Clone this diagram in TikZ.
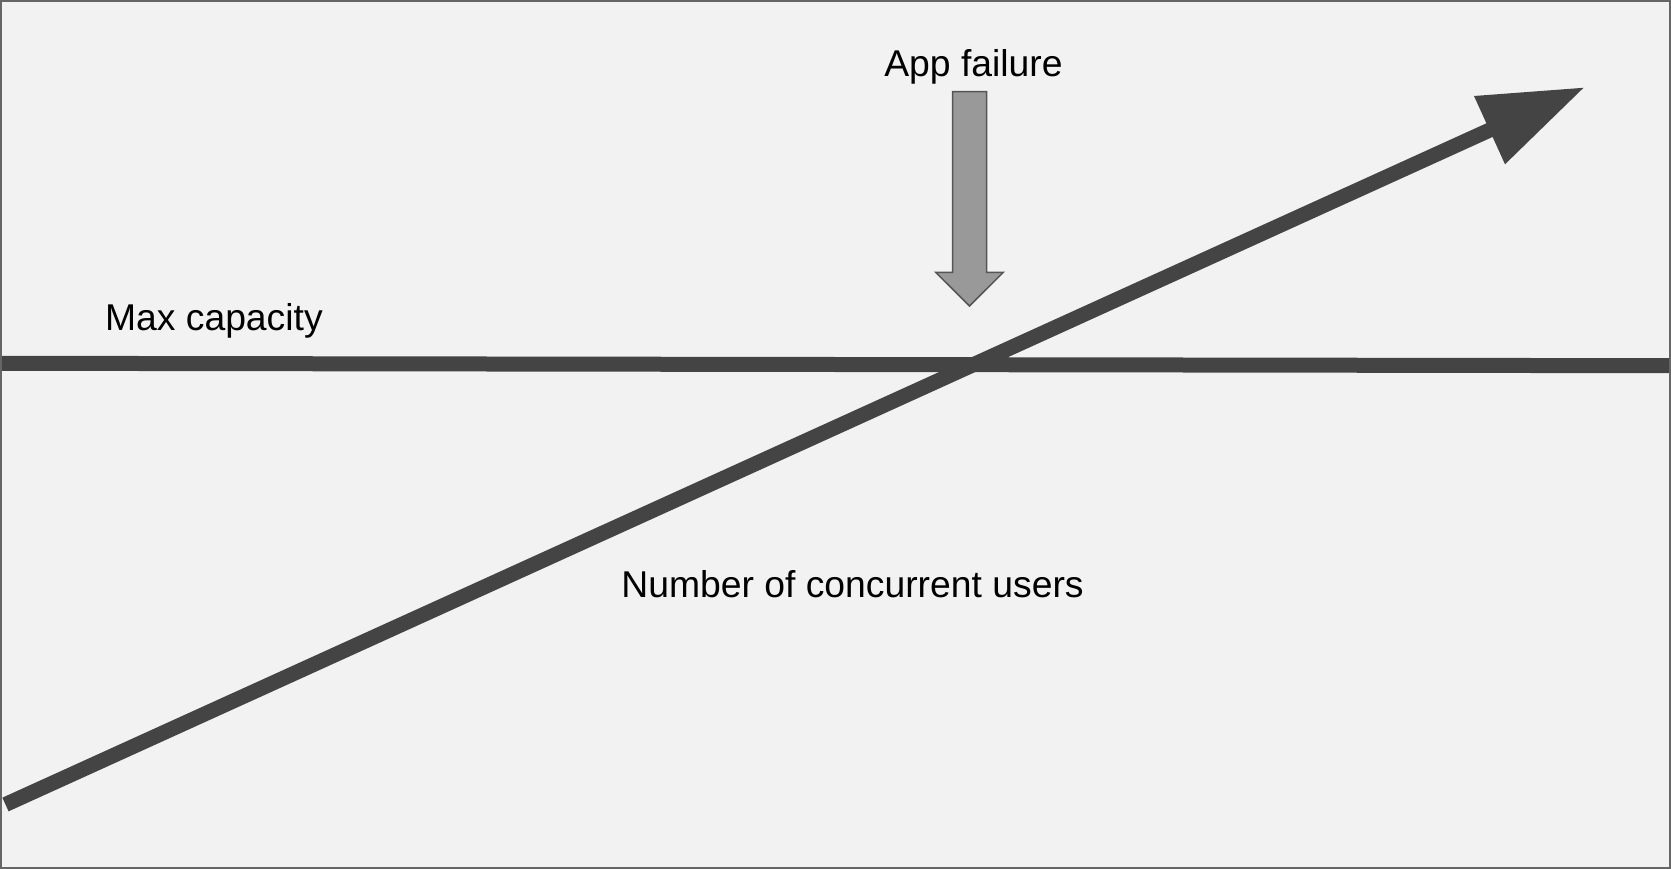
\documentclass[tikz,border=0pt]{standalone}
\usepackage{fontspec}
\setmainfont{Liberation Sans}
\definecolor{bgc}{HTML}{F2F2F2}
\definecolor{linec}{HTML}{444444}
\definecolor{afill}{HTML}{999999}
\definecolor{astroke}{HTML}{555555}
\definecolor{framec}{HTML}{666666}
\begin{document}
\begin{tikzpicture}[x=1pt,y=-1pt,
  thickline/.style={draw=linec, line width=15pt},
  headfill/.style={fill=linec},
  lbl/.style={font=\fontsize{37.3}{44}\selectfont, inner sep=0pt, anchor=base, text=black},
  failarrow/.style={fill=afill, draw=astroke, line width=1.5pt, line join=miter}]
\useasboundingbox (0,0) rectangle (1671,869);
\fill[bgc] (0,0) rectangle (1671,869);
% coordinates
\coordinate (capL) at (0,363.3);
\coordinate (capR) at (1671,365.7);
\coordinate (loadStart) at (5.5,804.5);
\coordinate (loadEnd) at (1492,129);
\coordinate (headA) at (1474,96);
\coordinate (headB) at (1505,164.3);
\coordinate (headTip) at (1583.5,87.8);
% max capacity line
\draw[thickline] (capL) -- (capR);
% load line with head
\draw[thickline] (loadStart) -- (loadEnd);
\fill[headfill] (headA) -- (headTip) -- (headB) -- cycle;
% app failure arrow
\draw[failarrow] (952.7,91.7) -- (986.7,91.7) -- (986.7,272.3) -- (1003.3,272.3)
  -- (969.5,306) -- (935.7,272.3) -- (952.7,272.3) -- cycle;
% labels
\node[lbl] (appfail) at (973.5,77) {App failure};
\node[lbl] (maxcap) at (213.9,330) {Max capacity};
\node[lbl] (users) at (852.5,597.7) {Number of concurrent users};
% frame
\draw[framec, line width=2pt] (1,1) rectangle (1670,868);
\end{tikzpicture}
\end{document}
